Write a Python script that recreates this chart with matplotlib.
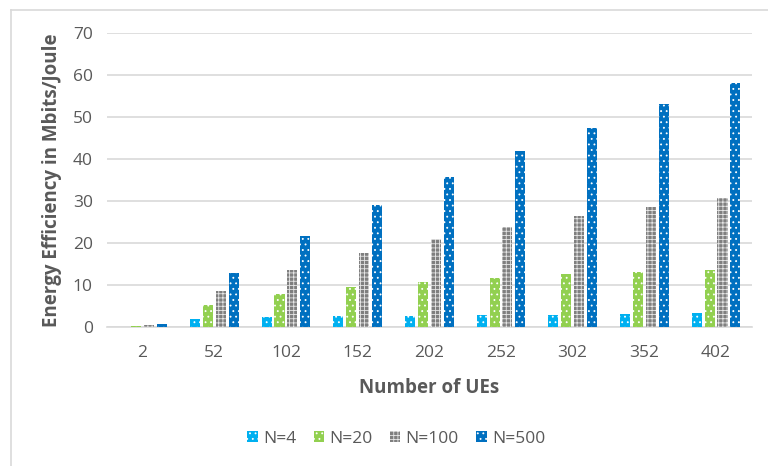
import numpy as np
import matplotlib
matplotlib.use("Agg")
import matplotlib.pyplot as plt
from matplotlib.lines import Line2D

# Energy efficiency (Mbits/Joule) versus number of UEs for several antenna counts
ues = ["2", "52", "102", "152", "202", "252", "302", "352", "402"]
series_names = ["N=4", "N=20", "N=100", "N=500"]
ee_n4 = [0.15, 1.9, 2.4, 2.6, 2.7, 2.8, 2.8, 3.1, 3.3]
ee_n20 = [0.3, 5.3, 7.9, 9.6, 10.8, 11.8, 12.6, 13.2, 13.7]
ee_n100 = [0.55, 8.6, 13.7, 17.7, 21.0, 23.9, 26.4, 28.6, 30.8]
ee_n500 = [0.8, 12.9, 21.7, 29.0, 35.8, 42.0, 47.5, 53.0, 58.1]

plt.rcParams["font.family"] = ["Open Sans", "DejaVu Sans"]
plt.rcParams["hatch.linewidth"] = 0.6

colors = ["#00b0f0", "#92d050", "#7f7f7f", "#0070c0"]
hatches = ["...", "...", "++++", "..."]
hatch_cols = ["white", "white", "#e6e6e6", "white"]

fig = plt.figure(figsize=(7.68, 4.66), dpi=100)
ax = fig.add_axes([0.139, 0.298, 0.840, 0.631])

x = np.arange(len(ues))
step = 0.18
width = 0.14
data = [ee_n4, ee_n20, ee_n100, ee_n500]
for i, vals in enumerate(data):
    ax.bar(x + (i - 1.5) * step, vals, width, color=colors[i],
           hatch=hatches[i], edgecolor=hatch_cols[i], linewidth=0,
           label=series_names[i], zorder=3)

ax.set_xlim(-0.5, len(ues) - 0.5)
ax.set_ylim(0, 70)
ax.set_yticks(range(0, 71, 10))
ax.set_xticks(x)
ax.set_xticklabels(ues)
ax.grid(axis="y", color="#d9d9d9", linewidth=1.2, zorder=0)
for s in ["top", "right", "left"]:
    ax.spines[s].set_visible(False)
ax.spines["bottom"].set_color("#d9d9d9")
ax.spines["bottom"].set_linewidth(1.2)
ax.tick_params(axis="both", length=0, labelsize=12.5, labelcolor="#595959")
ax.tick_params(axis="x", pad=13)
ax.tick_params(axis="y", pad=10)

ax.set_xlabel("Number of UEs", fontsize=13.5, fontweight="bold", color="#595959",
              labelpad=12)
ax.set_ylabel("Energy Efficiency in Mbits/Joule", fontsize=13.5,
              fontweight="bold", color="#595959", labelpad=8)

fig.legend(loc="center", bbox_to_anchor=(0.516, 0.058), ncol=4, frameon=False,
           fontsize=12.5, labelcolor="#595959", handlelength=0.6,
           handleheight=0.6, handletextpad=0.3, columnspacing=1.0)

# chart area frame
fx = 10.5 / 768
fy = 1 - 9.5 / 466
fig.add_artist(Line2D([fx, 1], [fy, fy], color="#d9d9d9", linewidth=1.2))
fig.add_artist(Line2D([fx, fx], [0, fy], color="#d9d9d9", linewidth=1.2))

fig.savefig("out.png", dpi=100)
